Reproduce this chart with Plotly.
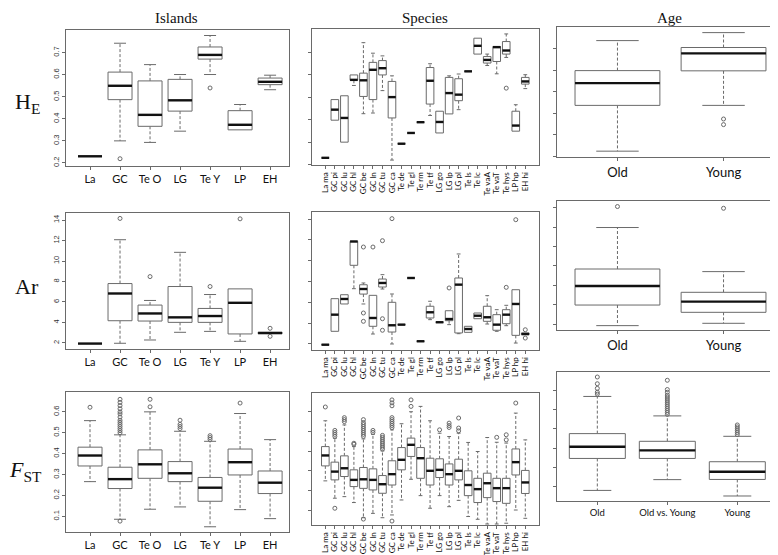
import plotly.graph_objects as go

# ---- categories ----
islands = ["La", "GC", "Te O", "LG", "Te Y", "LP", "EH"]
species = ["La ma", "GC pi", "GC lu", "GC hl", "GC be", "GC ln", "GC tu", "GC ca",
           "Te de", "Te gl", "Te rm", "Te tf", "LG go", "LG lp", "LG pl", "Te ls",
           "Te lc", "Te vaA", "Te vaT", "Te hys", "LP hp", "EH hi"]
age2 = ["Old", "Young"]
age3 = ["Old", "Old vs. Young", "Young"]

# ---- HE ----
he_isl_lo = [0.23, 0.30, 0.293, 0.344, 0.601, 0.35, 0.532]
he_isl_q1 = [0.23, 0.487, 0.366, 0.435, 0.671, 0.35, 0.555]
he_isl_med = [0.23, 0.55, 0.418, 0.484, 0.69, 0.373, 0.568]
he_isl_q3 = [0.23, 0.612, 0.572, 0.579, 0.726, 0.437, 0.585]
he_isl_hi = [0.23, 0.743, 0.646, 0.601, 0.778, 0.465, 0.598]
he_isl_out = [[], [0.219], [], [], [0.54], [], []]

he_sp_lo = [0.23, 0.398, 0.30, 0.553, 0.427, 0.43, 0.53, 0.22, 0.293, 0.341, 0.389,
            0.419, 0.341, 0.426, 0.445, 0.616, 0.693, 0.642, 0.605, 0.678, 0.349, 0.539]
he_sp_q1 = [0.23, 0.398, 0.30, 0.576, 0.504, 0.49, 0.60, 0.408, 0.293, 0.341, 0.389,
            0.47, 0.341, 0.426, 0.485, 0.616, 0.693, 0.653, 0.66, 0.693, 0.349, 0.559]
he_sp_med = [0.23, 0.445, 0.408, 0.578, 0.576, 0.623, 0.63, 0.501, 0.293, 0.341, 0.389,
             0.574, 0.39, 0.519, 0.512, 0.616, 0.73, 0.667, 0.724, 0.709, 0.374, 0.571]
he_sp_q3 = [0.23, 0.49, 0.507, 0.60, 0.608, 0.656, 0.664, 0.571, 0.293, 0.341, 0.389,
            0.633, 0.438, 0.589, 0.583, 0.616, 0.764, 0.682, 0.727, 0.749, 0.438, 0.589]
he_sp_hi = [0.23, 0.49, 0.507, 0.60, 0.744, 0.697, 0.685, 0.596, 0.293, 0.341, 0.389,
            0.65, 0.438, 0.596, 0.604, 0.616, 0.764, 0.693, 0.727, 0.783, 0.467, 0.601]
he_sp_out = [[], [], [], [], [], [], [], [], [], [], [], [], [], [], [], [], [], [], [],
             [0.541], [], []]

he_age_lo = [0.225, 0.437]
he_age_q1 = [0.437, 0.597]
he_age_med = [0.54, 0.678]
he_age_q3 = [0.598, 0.705]
he_age_hi = [0.737, 0.774]
he_age_out = [[], [0.374, 0.348]]

# ---- Ar ----
ar_isl_lo = [1.94, 1.97, 2.29, 3.04, 3.13, 2.16, 2.91]
ar_isl_q1 = [1.94, 4.17, 4.14, 4.01, 4.01, 2.88, 2.91]
ar_isl_med = [1.94, 6.83, 4.88, 4.5, 4.63, 5.92, 2.97]
ar_isl_q3 = [1.94, 7.8, 5.7, 7.51, 5.37, 7.28, 3.04]
ar_isl_hi = [1.94, 12.08, 6.15, 10.85, 6.73, 7.28, 3.04]
ar_isl_out = [[], [14.16], [8.48], [], [7.51], [14.12], [3.43, 2.65]]

ar_sp_lo = [1.92, 3.21, 5.84, 7.31, 5.84, 2.95, 7.28, 1.99, 3.85, 8.34, 2.25,
            4.33, 4.08, 3.85, 2.98, 3.11, 4.42, 3.91, 3.21, 3.75, 2.08, 2.88]
ar_sp_q1 = [1.92, 3.21, 5.84, 9.56, 6.79, 3.69, 7.47, 3.14, 3.85, 8.34, 2.25,
            4.49, 4.08, 4.23, 3.05, 3.11, 4.42, 4.17, 3.31, 3.94, 2.82, 2.88]
ar_sp_med = [1.92, 4.81, 6.32, 11.85, 7.28, 4.49, 7.86, 3.79, 3.85, 8.34, 2.25,
             5.04, 4.08, 4.39, 7.70, 3.43, 4.71, 4.56, 3.85, 4.81, 5.84, 2.95]
ar_sp_q3 = [1.92, 6.35, 6.73, 11.87, 7.69, 6.67, 8.24, 6.0, 3.85, 8.34, 2.25,
            5.62, 4.08, 5.19, 8.34, 3.69, 4.97, 5.62, 4.81, 5.29, 7.21, 3.05]
ar_sp_hi = [1.92, 6.35, 6.73, 11.87, 7.86, 6.67, 8.66, 6.8, 3.85, 8.34, 2.25,
            6.1, 4.08, 5.19, 10.65, 3.69, 4.97, 6.64, 5.29, 5.71, 7.21, 3.05]
ar_sp_out = [[], [], [], [], [11.32, 4.97, 4.17], [11.32], [11.93, 4.42, 3.31], [14.05],
             [], [], [], [], [], [7.38], [], [], [], [], [], [7.44], [13.95], [3.36, 2.56]]

ar_age_lo = [1.86, 2.1]
ar_age_q1 = [3.98, 3.23]
ar_age_med = [5.94, 4.33]
ar_age_q3 = [7.69, 5.29]
ar_age_hi = [11.96, 7.42]
ar_age_out = [[14.12], [13.94]]

# ---- FST ----
fst_isl_lo = [0.266, 0.086, 0.134, 0.145, 0.05, 0.132, 0.089]
fst_isl_q1 = [0.341, 0.233, 0.282, 0.266, 0.172, 0.298, 0.209]
fst_isl_med = [0.391, 0.278, 0.349, 0.306, 0.237, 0.359, 0.261]
fst_isl_q3 = [0.431, 0.335, 0.418, 0.362, 0.286, 0.422, 0.317]
fst_isl_hi = [0.558, 0.49, 0.60, 0.507, 0.459, 0.592, 0.467]
fst_isl_out = [[0.622],
               [0.077, 0.50, 0.51, 0.52, 0.53, 0.54, 0.55, 0.56, 0.575, 0.59, 0.60,
                0.615, 0.63, 0.645, 0.66],
               [0.624, 0.66], [0.52, 0.53, 0.54, 0.56], [0.468, 0.477, 0.486],
               [0.642], []]

fst_sp_lo = [0.249, 0.161, 0.169, 0.139, 0.062, 0.084, 0.062, 0.076, 0.152, 0.257, 0.174,
             0.11, 0.174, 0.118, 0.15, 0.068, 0.054, 0.03, 0.03, 0.034, 0.101, 0.059]
fst_sp_q1 = [0.325, 0.254, 0.271, 0.22, 0.211, 0.203, 0.186, 0.228, 0.305, 0.373, 0.262,
             0.228, 0.266, 0.228, 0.254, 0.174, 0.139, 0.164, 0.144, 0.135, 0.279, 0.185]
fst_sp_med = [0.378, 0.296, 0.313, 0.254, 0.257, 0.254, 0.232, 0.283, 0.356, 0.432, 0.364,
              0.30, 0.305, 0.283, 0.30, 0.228, 0.207, 0.237, 0.212, 0.212, 0.344, 0.241]
fst_sp_q3 = [0.423, 0.344, 0.376, 0.305, 0.317, 0.31, 0.276, 0.351, 0.418, 0.466, 0.418,
             0.364, 0.361, 0.335, 0.359, 0.30, 0.262, 0.288, 0.262, 0.262, 0.411, 0.302]
fst_sp_hi = [0.554, 0.465, 0.533, 0.423, 0.462, 0.485, 0.401, 0.508, 0.539, 0.60, 0.627,
             0.554, 0.491, 0.474, 0.491, 0.444, 0.398, 0.469, 0.445, 0.441, 0.593, 0.457]
fst_sp_out = [[0.624], [0.11, 0.475, 0.485, 0.495, 0.505], [0.55, 0.56, 0.57], [0.435, 0.44],
              [0.055, 0.475, 0.485, 0.495, 0.505, 0.515, 0.525, 0.535, 0.545, 0.56],
              [0.495, 0.505], [0.41, 0.42, 0.43, 0.44, 0.45, 0.46, 0.47, 0.48],
              [0.045, 0.52, 0.53, 0.54, 0.55, 0.56, 0.57, 0.63, 0.645, 0.66],
              [], [0.627, 0.66], [], [], [0.508], [0.52, 0.53, 0.542], [0.503, 0.517, 0.568],
              [], [], [], [0.47], [0.457, 0.483], [0.644], []]

fst_age_lo = [0.08, 0.136, 0.051]
fst_age_q1 = [0.246, 0.246, 0.137]
fst_age_med = [0.307, 0.288, 0.177]
fst_age_q3 = [0.375, 0.335, 0.229]
fst_age_hi = [0.568, 0.467, 0.361]
fst_age_out = [[0.58, 0.59, 0.61, 0.634, 0.669],
               [0.475, 0.485, 0.495, 0.505, 0.515, 0.525, 0.535, 0.545, 0.555, 0.565,
                0.575, 0.59, 0.604, 0.652],
               [0.37, 0.38, 0.39, 0.40, 0.41, 0.42]]

he_ticks = [0.2, 0.3, 0.4, 0.5, 0.6, 0.7]
ar_ticks = [2, 4, 6, 8, 10, 12, 14]
fst_ticks = [0.1, 0.2, 0.3, 0.4, 0.5, 0.6]

GREY = "#6a6a6a"
W = 778
H = 555


def px_x(a, b):
    return [a / W, b / W]


def px_y(top, bottom):
    return [1 - bottom / H, 1 - top / H]


fig = go.Figure()


def add_panel(k, cats, lo, q1, med, q3, hi, out, xr, yr, xdom, ydom, yticks,
              ylabels, xfont, xangle=0):
    xa = "x" if k == 1 else "x%d" % k
    ya = "y" if k == 1 else "y%d" % k
    pos = list(range(1, len(cats) + 1))
    hw, cw = 0.4, 0.2
    bx, by, mx, my, wx, wy, cx, cy, ox, oy = [], [], [], [], [], [], [], [], [], []
    for i, p in enumerate(pos):
        bx += [p - hw, p + hw, p + hw, p - hw, p - hw, None]
        by += [q1[i], q1[i], q3[i], q3[i], q1[i], None]
        mx += [p - hw, p + hw, None]
        my += [med[i], med[i], None]
        if hi[i] > q3[i]:
            wx += [p, p, None]
            wy += [q3[i], hi[i], None]
            cx += [p - cw, p + cw, None]
            cy += [hi[i], hi[i], None]
        if lo[i] < q1[i]:
            wx += [p, p, None]
            wy += [q1[i], lo[i], None]
            cx += [p - cw, p + cw, None]
            cy += [lo[i], lo[i], None]
        for v in out[i]:
            ox.append(p)
            oy.append(v)
    common = dict(xaxis=xa, yaxis=ya, showlegend=False, hoverinfo="skip")
    fig.add_trace(go.Scatter(x=wx, y=wy, mode="lines",
                             line=dict(color=GREY, width=1, dash="3px,2px"), **common))
    fig.add_trace(go.Scatter(x=cx, y=cy, mode="lines",
                             line=dict(color=GREY, width=1), **common))
    fig.add_trace(go.Scatter(x=bx, y=by, mode="lines", fill="toself", fillcolor="white",
                             line=dict(color=GREY, width=1), **common))
    fig.add_trace(go.Scatter(x=mx, y=my, mode="lines",
                             line=dict(color="#111111", width=2.4), **common))
    fig.add_trace(go.Scatter(x=ox, y=oy, mode="markers",
                             marker=dict(symbol="circle-open", size=4, color=GREY,
                                         line=dict(color=GREY, width=1)), **common))
    fig.layout[xa.replace("x", "xaxis")] = dict(
        domain=xdom, range=xr, anchor=ya, tickmode="array", tickvals=pos, ticktext=cats,
        tickangle=xangle, ticks="outside", ticklen=3, tickcolor=GREY,
        showline=True, mirror=True, linecolor=GREY, linewidth=1, showgrid=False,
        zeroline=False, tickfont=dict(family="Lato", size=xfont, color="#111"))
    fig.layout[ya.replace("y", "yaxis")] = dict(
        domain=ydom, range=yr, anchor=xa, tickmode="array", tickvals=yticks,
        ticktext=[str(t) for t in yticks], showticklabels=ylabels, tickangle=-90,
        ticks="outside", ticklen=3, tickcolor=GREY,
        showline=True, mirror=True, linecolor=GREY, linewidth=1, showgrid=False,
        zeroline=False, tickfont=dict(family="Liberation Sans", size=7.5, color="#333"))


col1 = px_x(58, 281)
col2 = px_x(304, 531)
col3 = px_x(549, 776)

add_panel(1, islands, he_isl_lo, he_isl_q1, he_isl_med, he_isl_q3, he_isl_hi, he_isl_out,
          [0.2, 7.63], [0.186, 0.803], col1, px_y(22, 158), he_ticks, True, 11)
add_panel(2, species, he_sp_lo, he_sp_q1, he_sp_med, he_sp_q3, he_sp_hi, he_sp_out,
          [-0.4, 23.44], [0.198, 0.805], col2, px_y(21, 157), he_ticks, False, 8, -90)
add_panel(3, age2, he_age_lo, he_age_q1, he_age_med, he_age_q3, he_age_hi, he_age_out,
          [0.43, 2.57], [0.198, 0.80], col3, px_y(19, 149), he_ticks, False, 13)

add_panel(4, islands, ar_isl_lo, ar_isl_q1, ar_isl_med, ar_isl_q3, ar_isl_hi, ar_isl_out,
          [0.2, 7.63], [1.41, 14.69], col1, px_y(205, 341), ar_ticks, True, 11)
add_panel(5, species, ar_sp_lo, ar_sp_q1, ar_sp_med, ar_sp_q3, ar_sp_hi, ar_sp_out,
          [-0.4, 23.44], [1.41, 14.69], col2, px_y(204, 342), ar_ticks, False, 8, -90)
add_panel(6, age2, ar_age_lo, ar_age_q1, ar_age_med, ar_age_q3, ar_age_hi, ar_age_out,
          [0.43, 2.57], [1.41, 14.69], col3, px_y(193, 322), ar_ticks, False, 13)

add_panel(7, islands, fst_isl_lo, fst_isl_q1, fst_isl_med, fst_isl_q3, fst_isl_hi,
          fst_isl_out, [0.2, 7.63], [0.025, 0.695], col1, px_y(384, 524), fst_ticks, True, 11)
add_panel(8, species, fst_sp_lo, fst_sp_q1, fst_sp_med, fst_sp_q3, fst_sp_hi, fst_sp_out,
          [-0.4, 23.44], [0.025, 0.695], col2, px_y(385, 517), fst_ticks, False, 8, -90)
add_panel(9, age3, fst_age_lo, fst_age_q1, fst_age_med, fst_age_q3, fst_age_hi, fst_age_out,
          [0.424, 3.667], [0.025, 0.695], col3, px_y(364, 493), fst_ticks, False, 9.5)

serif = "Liberation Serif"
notes = [
    ("Islands", 168, 10, 15),
    ("Species", 417, 10, 15),
    ("Age", 661, 10, 15),
    ("H<sub>E</sub>", 19, 95, 22),
    ("Ar", 19, 278, 22),
    ("<i>F</i><sub>ST</sub>", 17, 463, 22),
]
for txt, x, y, s in notes:
    fig.add_annotation(text=txt, x=x / W, y=1 - y / H, xref="paper", yref="paper",
                       showarrow=False, xanchor="center", yanchor="middle",
                       font=dict(family=serif, size=s, color="#111"))

fig.update_layout(width=W, height=H, margin=dict(l=0, r=0, t=0, b=0),
                  paper_bgcolor="white", plot_bgcolor="white")
fig.write_html("out.html")
